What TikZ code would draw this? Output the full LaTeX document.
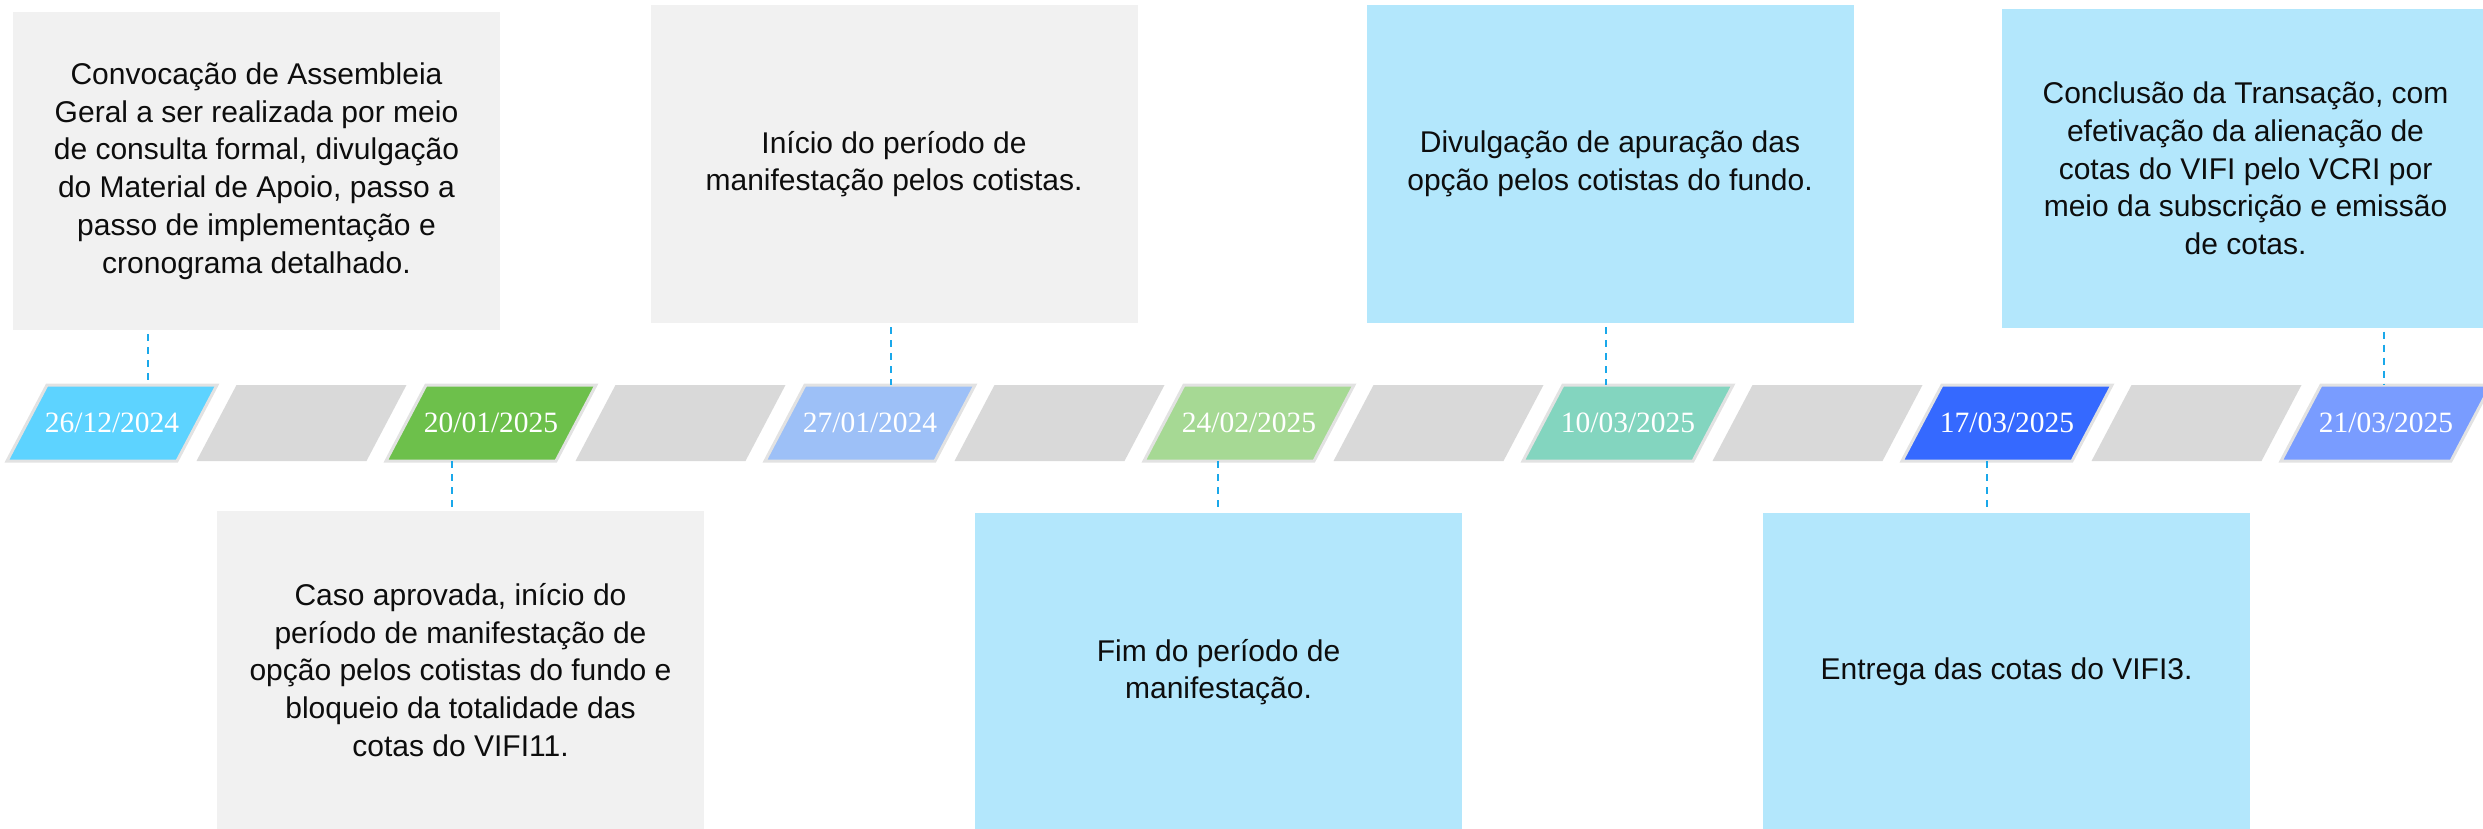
\documentclass[tikz,border=0pt]{standalone}
\usepackage{fontspec}
\setmainfont{Liberation Sans}
\newfontfamily\datafont{Liberation Serif}

\definecolor{caixacinza}{HTML}{F1F1F1}
\definecolor{caixaazul}{HTML}{B3E7FC}
\definecolor{faixa}{HTML}{D9D9D9}
\definecolor{contorno}{HTML}{E2E2E2}
\definecolor{elo}{HTML}{1AA8EA}
\definecolor{ciano}{HTML}{5DD3FF}
\definecolor{verde}{HTML}{6DC04B}
\definecolor{azulclaro}{HTML}{9DC0F7}
\definecolor{verdeclaro}{HTML}{A6D994}
\definecolor{turquesa}{HTML}{83D5BF}
\definecolor{azulforte}{HTML}{3569FF}
\definecolor{lavanda}{HTML}{799CFF}

\tikzset{
  caixa/.style={minimum width=487pt, minimum height=318pt, inner sep=0pt,
    align=center, font=\fontsize{30}{37.7}\selectfont, text=black!95},
  datum/.style={minimum width=170pt, minimum height=76pt, inner sep=0pt,
    font=\datafont\fontsize{29.5}{32}\selectfont, text=white},
  ligacao/.style={elo, line width=2.7pt, dash pattern=on 7pt off 6pt}
}

\begin{document}
\begin{tikzpicture}[x=1pt,y=-1pt]
\clip (0,0) rectangle (2483,829);

% faixas cinzentas entre as datas
\foreach \i in {1,3,...,11}{
  \pgfmathsetmacro\x{112+189.5*\i}
  \fill[faixa] (\x-65,385) -- (\x+105,385) -- (\x+65,461) -- (\x-105,461) -- cycle;
}

% datas
\foreach \i/\cor/\data in {0/ciano/26\slash12\slash2024, 2/verde/20\slash01\slash2025,
    4/azulclaro/27\slash01\slash2024, 6/verdeclaro/24\slash02\slash2025,
    8/turquesa/10\slash03\slash2025, 10/azulforte/17\slash03\slash2025,
    12/lavanda/21\slash03\slash2025}{
  \pgfmathsetmacro\x{112+189.5*\i}
  \filldraw[fill=\cor, draw=contorno, line width=3pt]
    (\x-65,385) -- (\x+105,385) -- (\x+65,461) -- (\x-105,461) -- cycle;
  \node[datum] (d\i) at (\x,423) {\data};
}

% caixas de texto
\node[caixa, fill=caixacinza] (e1) at (256.5,171) {Convocação de Assembleia\\Geral a ser realizada por meio\\de consulta formal, divulgação\\do Material de Apoio, passo a\\passo de implementação e\\cronograma detalhado.};
\node[caixa, fill=caixacinza] (e2) at (460.5,670) {Caso aprovada, início do\\período de manifestação de\\opção pelos cotistas do fundo e\\bloqueio da totalidade das\\cotas do VIFI11.};
\node[caixa, fill=caixacinza] (e3) at (894,164) {Início do período de\\manifestação pelos cotistas.};
\node[caixa, fill=caixaazul] (e4) at (1218.5,672) {Fim do período de\\manifestação.};
\node[caixa, fill=caixaazul] (e5) at (1610,164) {Divulgação de apuração das\\opção pelos cotistas do fundo.};
\node[caixa, fill=caixaazul] (e6) at (2006.5,672) {Entrega das cotas do VIFI3.};
\node[caixa, fill=caixaazul] (e7) at (2245.5,168.5) {Conclusão da Transação, com\\efetivação da alienação de\\cotas do VIFI pelo VCRI por\\meio da subscrição e emissão\\de cotas.};

% ligacoes tracejadas
\draw[ligacao] ([xshift=36pt,yshift=-4pt]e1.south -| d0.north) -- ([xshift=36pt]d0.north);
\draw[ligacao] ([xshift=-39pt]d2.south) -- ([xshift=-39pt]d2.south |- e2.north);
\draw[ligacao] ([xshift=21pt,yshift=-4pt]e3.south -| d4.north) -- ([xshift=21pt]d4.north);
\draw[ligacao] ([xshift=-31pt]d6.south) -- ([xshift=-31pt]d6.south |- e4.north);
\draw[ligacao] ([xshift=-22pt,yshift=-4pt]e5.south -| d8.north) -- ([xshift=-22pt]d8.north);
\draw[ligacao] ([xshift=-20pt]d10.south) -- ([xshift=-20pt]d10.south |- e6.north);
\draw[ligacao] ([xshift=-2pt,yshift=-4pt]e7.south -| d12.north) -- ([xshift=-2pt]d12.north);
\end{tikzpicture}
\end{document}
